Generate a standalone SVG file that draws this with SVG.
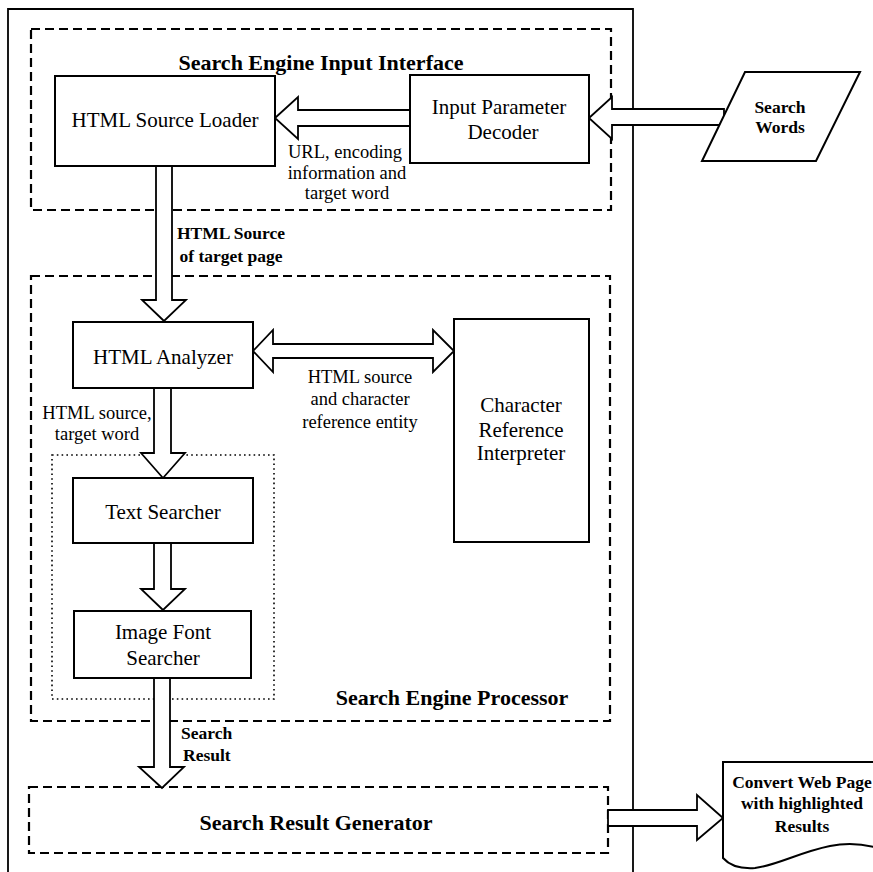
<svg xmlns="http://www.w3.org/2000/svg" width="873" height="872" viewBox="0 0 873 872">
<style>
  .bg{fill:#ffffff}
  .outer{fill:none;stroke:#000;stroke-width:1.8}
  .dash{fill:none;stroke:#000;stroke-width:2.2;stroke-dasharray:9 5}
  .dot{fill:none;stroke:#000;stroke-width:1.6;stroke-dasharray:1.6 3.2}
  .box{fill:#fff;stroke:#000;stroke-width:2}
  .arrow{fill:#fff;stroke:#000;stroke-width:1.8;stroke-linejoin:miter}
  text{font-family:"Liberation Serif","Times New Roman",serif;fill:#000}
  .title{font-size:22px;font-weight:bold;text-anchor:middle}
  .node{font-size:21px;text-anchor:middle}
  .lbl{font-size:18.5px;text-anchor:middle}
  .lblb{font-size:17.5px;font-weight:bold;text-anchor:middle}
</style>
<rect class="bg" x="0" y="0" width="873" height="872"/>

<g id="system-boundary">
  <path class="outer" d="M8,874 V9 H633 V874"/>
</g>

<g id="input-interface">
  <rect class="dash" x="31" y="29" width="580" height="181"/>
  <text class="title" x="321" y="70">Search Engine Input Interface</text>
</g>

<g id="search-processor">
  <rect class="dash" x="31" y="276" width="579" height="445"/>
  <text class="title" x="452" y="705">Search Engine Processor</text>
</g>

<g id="searcher-group">
  <rect class="dot" x="52" y="455" width="222" height="244"/>
</g>

<g id="result-generator">
  <rect class="dash" x="29" y="787" width="579" height="66"/>
  <text class="title" x="316" y="830">Search Result Generator</text>
</g>

<g id="connectors">
  <polygon class="arrow" points="275,118 298,97 298,110 410,110 410,126 298,126 298,139"/>
  <polygon class="arrow" points="589,118 612,97 612,109 724,109 724,125 612,125 612,139"/>
  <polygon class="arrow" points="164,321 142,300 156,300 156,166 172,166 172,300 186,300"/>
  <polygon class="arrow" points="253,351 273,330 273,344 433,344 433,330 454,351 433,372 433,358 273,358 273,372"/>
  <polygon class="arrow" points="163,478 141,453 154,453 154,388 171,388 171,453 185,453"/>
  <polygon class="arrow" points="163,610 141,589 154,589 154,543 171,543 171,589 185,589"/>
  <polygon class="arrow" points="162,788 139,767 154,767 154,678 170,678 170,767 184,767"/>
  <polygon class="arrow" points="723,818 697,795 697,810 608,810 608,826 697,826 697,840"/>
  <text class="lbl" x="345" y="158">URL, encoding</text>
  <text class="lbl" x="347" y="179">information and</text>
  <text class="lbl" x="347" y="199">target word</text>
  <text class="lblb" x="231" y="239">HTML Source</text>
  <text class="lblb" x="231" y="262">of target page</text>
  <text class="lbl" x="360" y="383">HTML source</text>
  <text class="lbl" x="360" y="405">and character</text>
  <text class="lbl" x="360" y="428">reference entity</text>
  <text class="lbl" x="97" y="419">HTML source,</text>
  <text class="lbl" x="97" y="440">target word</text>
  <text class="lblb" x="181" y="739" style="text-anchor:start">Search</text>
  <text class="lblb" x="183" y="761" style="text-anchor:start">Result</text>
</g>

<g id="html-source-loader">
  <rect class="box" x="55" y="76" width="220" height="90"/>
  <text class="node" x="165" y="127">HTML Source Loader</text>
</g>

<g id="input-parameter-decoder">
  <rect class="box" x="410" y="75" width="179" height="88"/>
  <text class="node" x="499" y="114">Input Parameter</text>
  <text class="node" x="503" y="139">Decoder</text>
</g>

<g id="search-words">
  <polygon class="box" points="745,72 860,72 816,161 702,161"/>
  <text class="lblb" x="780" y="113">Search</text>
  <text class="lblb" x="780" y="133">Words</text>
</g>

<g id="html-analyzer">
  <rect class="box" x="73" y="322" width="180" height="66"/>
  <text class="node" x="163" y="364">HTML Analyzer</text>
</g>

<g id="character-reference-interpreter">
  <rect class="box" x="454" y="319" width="135" height="223"/>
  <text class="node" x="521" y="412">Character</text>
  <text class="node" x="521" y="437">Reference</text>
  <text class="node" x="521" y="460">Interpreter</text>
</g>

<g id="text-searcher">
  <rect class="box" x="73" y="478" width="180" height="65"/>
  <text class="node" x="163" y="519">Text Searcher</text>
</g>

<g id="image-font-searcher">
  <rect class="box" x="74" y="611" width="177" height="67"/>
  <text class="node" x="163" y="639">Image Font</text>
  <text class="node" x="163" y="665">Searcher</text>
</g>

<g id="converted-web-page">
  <path class="box" d="M723,858 V762 H885 V850 C870,845 850,842 830,846 C800,852 775,866 755,868 C740,869 730,866 723,858 Z"/>
  <text class="lblb" x="802" y="788">Convert Web Page</text>
  <text class="lblb" x="802" y="809">with highlighted</text>
  <text class="lblb" x="802" y="832">Results</text>
</g>
</svg>
